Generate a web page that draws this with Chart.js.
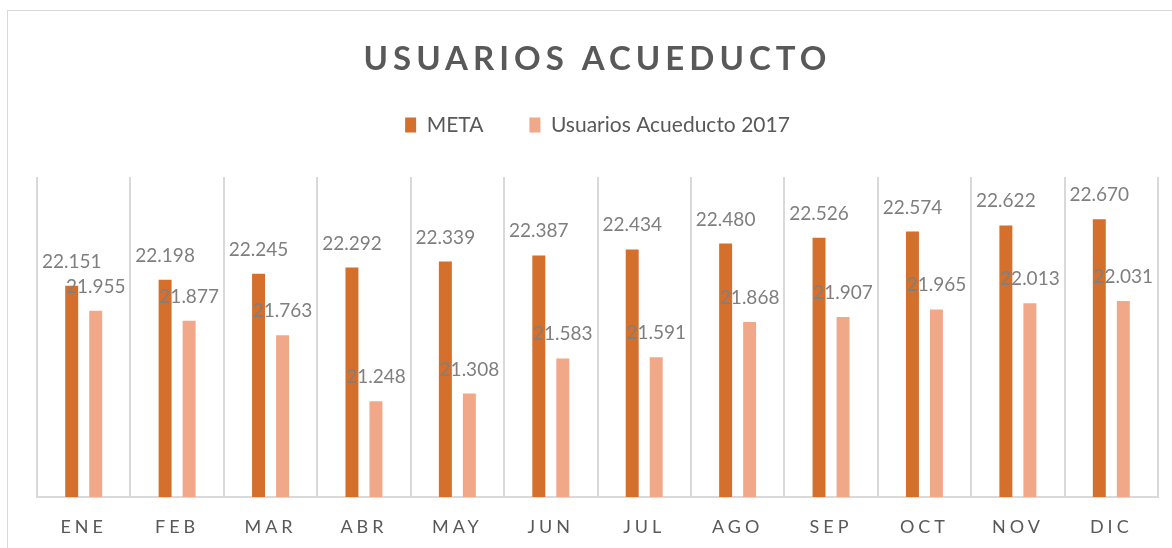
<!DOCTYPE html>
<html>
<head>
<meta charset="utf-8">
<script src="https://cdn.jsdelivr.net/npm/chart.js@4.4.0/dist/chart.umd.min.js"></script>
<style>
  html, body { margin: 0; padding: 0; background: #fff; overflow: hidden; }
  #wrap { position: relative; width: 1172px; height: 548px; }
  #frame { position: absolute; left: 7px; top: 10px; width: 1200px; height: 600px; border: 1px solid #d9d9d9; }
  #c { position: absolute; left: 0; top: 0; }
</style>
</head>
<body>
<div id="wrap"><div id="frame"></div><canvas id="c" width="1172" height="548"></canvas></div>
<script>
// datos
const meses = ['ENE', 'FEB', 'MAR', 'ABR', 'MAY', 'JUN', 'JUL', 'AGO', 'SEP', 'OCT', 'NOV', 'DIC'];
const meta = [22151, 22198, 22245, 22292, 22339, 22387, 22434, 22480, 22526, 22574, 22622, 22670];
const usuarios2017 = [21955, 21877, 21763, 21248, 21308, 21583, 21591, 21868, 21907, 21965, 22013, 22031];
const nombresSeries = ['META', 'Usuarios Acueducto 2017'];
const titulo = 'USUARIOS ACUEDUCTO';
const ejeMin = 20500, ejeMax = 23000;

const fmt = v => String(v).replace(/\B(?=(\d{3})+(?!\d))/g, '.');

// letter spacing for title and month labels (Excel style)
const espaciado = {
  id: 'espaciado',
  beforeDraw(chart) {
    if (chart.$espaciado) return;
    chart.$espaciado = true;
    const ctx = chart.ctx;
    const wrap = (obj, fn, px) => {
      const orig = obj[fn];
      obj[fn] = function(...a) {
        ctx.save();
        ctx.letterSpacing = px;
        orig.apply(this, a);
        ctx.restore();
      };
    };
    wrap(chart.titleBlock, 'draw', '5px');
    wrap(chart.scales.x, 'drawLabels', '4px');
  }
};

// value labels above every bar
const etiquetas = {
  id: 'etiquetas',
  afterDatasetsDraw(chart) {
    const ctx = chart.ctx;
    ctx.save();
    ctx.font = '19px Lato';
    ctx.fillStyle = '#7f7f7f';
    ctx.textAlign = 'center';
    ctx.textBaseline = 'alphabetic';
    chart.data.datasets.forEach((ds, i) => {
      chart.getDatasetMeta(i).data.forEach((bar, j) => {
        ctx.fillText(fmt(ds.data[j]), bar.x, bar.y - 18);
      });
    });
    ctx.restore();
  }
};

function dibujar() {
  new Chart(document.getElementById('c'), {
    type: 'bar',
    data: {
      labels: meses,
      datasets: [
        { label: nombresSeries[0], data: meta, backgroundColor: '#D46F2C', categoryPercentage: 0.514, barPercentage: 0.54 },
        { label: nombresSeries[1], data: usuarios2017, backgroundColor: '#F1A888', categoryPercentage: 0.514, barPercentage: 0.54 }
      ]
    },
    options: {
      responsive: false,
      animation: false,
      layout: { padding: { left: 37, right: 14, top: 0, bottom: 0 } },
      plugins: {
        title: {
          display: true, text: titulo, color: '#595959',
          font: { family: 'Lato', size: 33, weight: 'bold', lineHeight: 1 },
          padding: { top: 43, bottom: -7.5 }
        },
        legend: {
          position: 'top',
          labels: { color: '#595959', font: { family: 'Lato', size: 21 }, boxWidth: 11, boxHeight: 15, padding: 46 }
        },
        subtitle: { display: true, text: '', weight: 500, font: { size: 1, lineHeight: 1 }, padding: { top: 30.5, bottom: 0 } },
        tooltip: { enabled: false }
      },
      scales: {
        x: {
          afterFit(scale) { scale.height = 51; },
          grid: { color: '#d9d9d9', lineWidth: 2, drawTicks: false, offset: true },
          border: { color: '#d9d9d9', width: 2 },
          ticks: { color: '#595959', font: { family: 'Lato', size: 18 }, padding: 19 }
        },
        y: { display: false, min: ejeMin, max: ejeMax }
      }
    },
    plugins: [espaciado, etiquetas]
  });
}

Promise.all([
  document.fonts.load('bold 33px Lato'),
  document.fonts.load('21px Lato')
]).then(dibujar, dibujar);
</script>
</body>
</html>
